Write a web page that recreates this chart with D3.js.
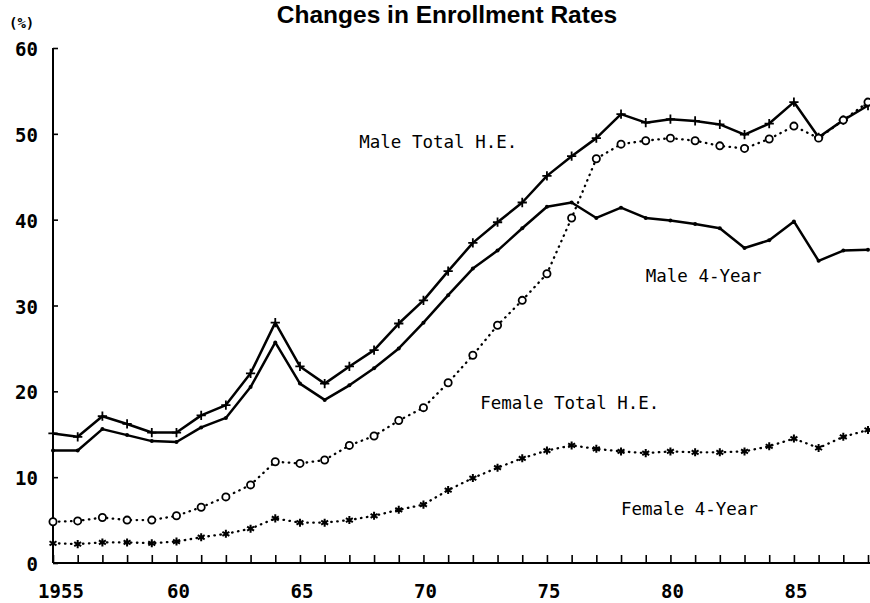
<!DOCTYPE html>
<html lang="en">
<head>
  <meta charset="UTF-8" />
  <title>Changes in Enrollment Rates</title>
  <script src="https://d3js.org/d3.v7.min.js"></script>
  <style>
    body { margin: 0; background: #fff; }
    svg { display: block; }
    .title { font-family: "Liberation Sans", Arial, sans-serif; font-weight: bold; font-size: 24.5px; }
    .lab, .tick text { font-family: "DejaVu Sans Mono", monospace; fill: #000; }
  </style>
</head>
<body>
  <svg width="870" height="603"></svg>
  <script>
    const years = [1955, 1956, 1957, 1958, 1959, 1960, 1961, 1962, 1963, 1964, 1965, 1966,
      1967, 1968, 1969, 1970, 1971, 1972, 1973, 1974, 1975, 1976, 1977, 1978, 1979, 1980,
      1981, 1982, 1983, 1984, 1985, 1986, 1987, 1988];

    const maleTotal = [15.1, 14.7, 17.1, 16.2, 15.2, 15.2, 17.2, 18.4, 22.1, 28.0, 22.9, 20.9,
      22.9, 24.8, 27.9, 30.6, 34.0, 37.3, 39.7, 42.0, 45.1, 47.4, 49.5, 52.3, 51.3, 51.7,
      51.5, 51.1, 49.9, 51.2, 53.7, 49.6, 51.6, 53.3];
    const male4 = [13.1, 13.1, 15.6, 14.9, 14.2, 14.1, 15.8, 16.9, 20.5, 25.7, 20.9, 19.0,
      20.7, 22.7, 25.0, 28.0, 31.2, 34.3, 36.4, 39.0, 41.5, 42.0, 40.2, 41.4, 40.2, 39.9,
      39.5, 39.0, 36.7, 37.6, 39.8, 35.2, 36.4, 36.5];
    const femaleTotal = [4.8, 4.9, 5.3, 5.0, 5.0, 5.5, 6.5, 7.7, 9.1, 11.8, 11.6, 12.0,
      13.7, 14.8, 16.6, 18.1, 21.0, 24.2, 27.7, 30.6, 33.7, 40.2, 47.1, 48.8, 49.2, 49.5,
      49.2, 48.6, 48.3, 49.4, 50.9, 49.5, 51.6, 53.7];
    const female4 = [2.3, 2.2, 2.4, 2.4, 2.3, 2.5, 3.0, 3.4, 4.0, 5.2, 4.7, 4.7,
      5.0, 5.5, 6.2, 6.8, 8.5, 9.9, 11.1, 12.2, 13.1, 13.7, 13.3, 13.0, 12.8, 13.0,
      12.9, 12.9, 13.0, 13.6, 14.5, 13.4, 14.7, 15.5];

    const xTickYears = [1955, 1960, 1965, 1970, 1975, 1980, 1985];
    const xTickLabels = ["1955", "60", "65", "70", "75", "80", "85"];
    const yTicks = [0, 10, 20, 30, 40, 50, 60];

    const seriesNames = ["Male Total H.E.", "Male 4-Year", "Female Total H.E.", "Female 4-Year"];
    // label anchor in data units (year, %)
    const labelYears = [1967.4, 1979.0, 1972.3, 1978.0];
    const labelVals = [48.3, 32.7, 18.0, 5.6];

    const svg = d3.select("svg");
    const x = d3.scaleLinear().domain([1955, 1988]).range([53, 868]);
    const y = d3.scaleLinear().domain([0, 60]).range([563, 48]);

    // title and unit
    svg.append("text").attr("class", "title")
      .attr("x", 447).attr("y", 23).attr("text-anchor", "middle")
      .text("Changes in Enrollment Rates");
    svg.append("text").attr("class", "lab")
      .attr("x", 9).attr("y", 28).style("font-size", "14px").style("font-weight", "bold")
      .text("(%)");

    // axes
    const xAxis = d3.axisBottom(x).tickValues(years).tickSize(-8).tickFormat(() => "");
    svg.append("g").attr("transform", `translate(0,${y(0)})`).call(xAxis)
      .call(g => g.select(".domain").attr("stroke-width", 2).attr("d", `M${x(1955)},0H870`))
      .call(g => g.selectAll(".tick line").attr("stroke-width", 1.6));

    svg.selectAll(".xlab").data(xTickYears).enter().append("text")
      .attr("class", "lab")
      .attr("x", (d, i) => x(d) + (i === 0 ? 8 : 2))
      .attr("y", 598)
      .attr("text-anchor", "middle")
      .style("font-size", "19px").style("font-weight", "bold")
      .text((d, i) => xTickLabels[i]);

    const yAxis = d3.axisLeft(y).tickValues(yTicks).tickSize(-5).tickFormat(() => "");
    svg.append("g").attr("transform", `translate(${x(1955)},0)`).call(yAxis)
      .call(g => g.select(".domain").attr("stroke-width", 2).attr("d", `M0,${y(60)}V${y(0)}`))
      .call(g => g.selectAll(".tick line").attr("stroke-width", 1.6));

    svg.selectAll(".ylab").data(yTicks).enter().append("text")
      .attr("class", "lab")
      .attr("x", 38).attr("y", d => y(d) + 8)
      .attr("text-anchor", "end")
      .style("font-size", "19px").style("font-weight", "bold")
      .text(d => d);

    const line = d3.line().x((d, i) => x(years[i])).y(d => y(d));

    function drawSeries(vals, dotted) {
      svg.append("path").datum(vals)
        .attr("fill", "none").attr("stroke", "#000")
        .attr("stroke-width", dotted ? 2.3 : 2.5)
        .attr("stroke-linecap", "round")
        .attr("stroke-linejoin", "round")
        .attr("stroke-dasharray", dotted ? "0.5 5.5" : null)
        .attr("d", line);
    }

    drawSeries(maleTotal, false);
    drawSeries(male4, false);
    drawSeries(femaleTotal, true);
    drawSeries(female4, true);

    const plusSym = d3.symbolPlus || d3.symbolCross;
    const starSym = d3.symbolAsterisk || d3.symbolTimes || d3.symbolCross;

    svg.append("g").selectAll("path").data(maleTotal).enter().append("path")
      .attr("transform", (d, i) => `translate(${x(years[i])},${y(d)})`)
      .attr("d", d3.symbol(plusSym, 30))
      .attr("fill", "none").attr("stroke", "#000").attr("stroke-width", 1.8);

    svg.append("g").selectAll("circle").data(male4).enter().append("circle")
      .attr("cx", (d, i) => x(years[i])).attr("cy", d => y(d))
      .attr("r", 2).attr("fill", "#000");

    svg.append("g").selectAll("circle").data(femaleTotal).enter().append("circle")
      .attr("cx", (d, i) => x(years[i])).attr("cy", d => y(d))
      .attr("r", 3.6).attr("fill", "#fff").attr("stroke", "#000").attr("stroke-width", 1.8);

    svg.append("g").selectAll("path").data(female4).enter().append("path")
      .attr("transform", (d, i) => `translate(${x(years[i])},${y(d)})`)
      .attr("d", d3.symbol(starSym, 45))
      .attr("fill", "none").attr("stroke", "#000").attr("stroke-width", 2);

    // series labels
    svg.selectAll(".slab").data(seriesNames).enter().append("text")
      .attr("class", "lab")
      .attr("x", (d, i) => x(labelYears[i]))
      .attr("y", (d, i) => y(labelVals[i]))
      .style("font-size", "17.5px")
      .text(d => d);
  </script>
</body>
</html>
